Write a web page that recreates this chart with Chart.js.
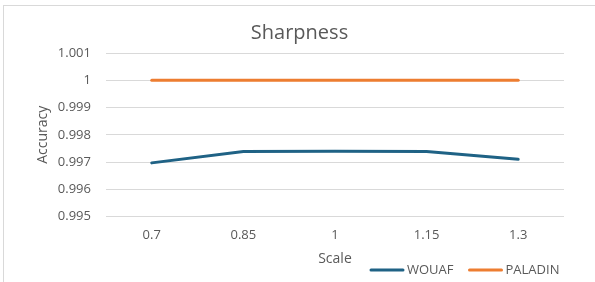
<!DOCTYPE html>
<html>
<head>
<meta charset="utf-8">
<script src="https://cdn.jsdelivr.net/npm/chart.js@4"></script>
<style>
  html, body { margin: 0; padding: 0; background: #fff; }
  #wrap { position: relative; width: 595px; height: 282px; }
  #frame { position: absolute; left: 3px; top: 5px; right: -10px; bottom: -10px; border-left: 1px solid #d9d9d9; border-top: 1px solid #d9d9d9; pointer-events: none; }
  canvas { position: absolute; left: 0; top: 0; }
</style>
</head>
<body>
<div id="wrap">
  <canvas id="c" width="595" height="282"></canvas>
  <div id="frame"></div>
</div>
<script>
const categories = ["0.7", "0.85", "1", "1.15", "1.3"];
const wouaf = [0.99697, 0.99739, 0.99740, 0.99739, 0.99710];
const paladin = [1, 1, 1, 1, 1];
const seriesNames = ["WOUAF", "PALADIN"];
const seriesColors = ["#1F6285", "#ED7D31"];
const yTicks = [0.995, 0.996, 0.997, 0.998, 0.999, 1, 1.001];

const FONT = "'Open Sans', 'Noto Sans', sans-serif";
const TXT = "#595959";

const customLegend = {
  id: 'customLegend',
  afterDraw(chart) {
    const ctx = chart.ctx;
    ctx.save();
    ctx.font = "13px " + FONT;
    ctx.textBaseline = 'middle';
    ctx.textAlign = 'left';
    let x = 370;
    const y = 270;
    chart.data.datasets.forEach((ds) => {
      ctx.strokeStyle = ds.borderColor;
      ctx.lineWidth = 3;
      ctx.lineCap = 'round';
      ctx.beginPath();
      ctx.moveTo(x + 1, y);
      ctx.lineTo(x + 33, y);
      ctx.stroke();
      ctx.fillStyle = TXT;
      ctx.fillText(ds.label, x + 37, y);
      x += 37 + ctx.measureText(ds.label).width + 15;
    });
    ctx.restore();
  }
};

new Chart(document.getElementById('c'), {
  type: 'line',
  data: {
    labels: categories,
    datasets: [
      { label: seriesNames[0], data: wouaf, borderColor: seriesColors[0], backgroundColor: seriesColors[0], borderWidth: 3, pointRadius: 0, tension: 0, borderCapStyle: 'round' },
      { label: seriesNames[1], data: paladin, borderColor: seriesColors[1], backgroundColor: seriesColors[1], borderWidth: 3, pointRadius: 0, tension: 0, borderCapStyle: 'round' }
    ]
  },
  options: {
    responsive: false,
    animation: false,
    devicePixelRatio: 1,
    layout: { padding: { left: 35, right: 31, top: 20, bottom: 15 } },
    plugins: {
      legend: { display: false },
      tooltip: { enabled: false },
      title: {
        display: true,
        text: 'Sharpness',
        color: TXT,
        font: { family: FONT, size: 20, weight: 'normal' },
        padding: { top: 1, bottom: 8 }
      }
    },
    scales: {
      x: {
        type: 'category',
        offset: true,
        grid: { display: false, drawTicks: false },
        border: { display: false },
        ticks: { color: TXT, font: { family: FONT, size: 13 }, padding: 11, maxRotation: 0 },
        title: { display: true, text: 'Scale', color: TXT, font: { family: FONT, size: 14 }, padding: { top: -4, bottom: 0 } }
      },
      y: {
        min: 0.995,
        max: 1.001,
        afterBuildTicks(scale) { scale.ticks = yTicks.map(v => ({ value: v })); },
        grid: { color: '#d9d9d9', lineWidth: 1, drawTicks: false },
        border: { display: false },
        ticks: {
          color: TXT,
          font: { family: FONT, size: 13 },
          padding: 15,
          callback: (v) => String(parseFloat(Number(v).toFixed(3)))
        },
        title: { display: true, text: 'Accuracy', color: TXT, font: { family: FONT, size: 14 }, padding: { top: 0, bottom: -9 } }
      }
    }
  },
  plugins: [customLegend]
});
</script>
</body>
</html>
